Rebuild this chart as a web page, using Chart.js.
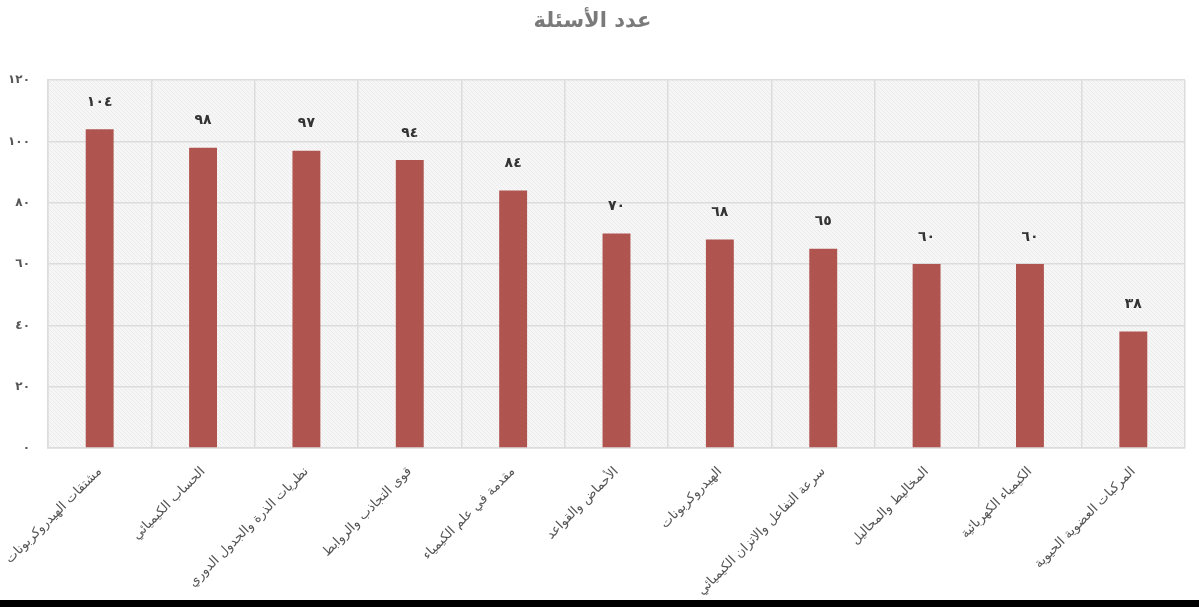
<!DOCTYPE html>
<html lang="ar">
<head>
<meta charset="utf-8">
<script src="https://cdn.jsdelivr.net/npm/chart.js@4/dist/chart.umd.min.js"></script>
<style>
  html, body { margin: 0; padding: 0; background: #fff; }
  #wrap { width: 1199px; height: 600px; position: relative; }
  #bottomBar { width: 1199px; height: 7px; background: #000; }
</style>
</head>
<body>
<div id="wrap"><canvas id="questionsChart"></canvas></div>
<div id="bottomBar"></div>
<script>
// chart data
const topics = [
  'مشتقات الهيدروكربونات',
  'الحساب الكيميائي',
  'نظريات الذرة والجدول الدوري',
  'قوى التجاذب والروابط',
  'مقدمة في علم الكيمياء',
  'الأحماض والقواعد',
  'الهيدروكربونات',
  'سرعة التفاعل والاتزان الكيميائي',
  'المخاليط والمحاليل',
  'الكيمياء الكهربائية',
  'المركبات العضوية الحيوية'
];
const questionCounts = [104, 98, 97, 94, 84, 70, 68, 65, 60, 60, 38];
const yTicks = [0, 20, 40, 60, 80, 100, 120];
const chartTitle = 'عدد الأسئلة';

const arabicDigits = '٠١٢٣٤٥٦٧٨٩';
function toArabic(n) {
  return String(n).replace(/[0-9]/g, d => arabicDigits[d]);
}

// hatched plot background
function makeHatch() {
  const c = document.createElement('canvas');
  c.width = 4; c.height = 4;
  const g = c.getContext('2d');
  g.fillStyle = '#f6f6f6';
  g.fillRect(0, 0, 4, 4);
  g.fillStyle = '#ebebeb';
  for (let i = 0; i < 4; i++) g.fillRect(i, i, 1, 1);
  return c;
}

const hatchBackground = {
  id: 'hatchBackground',
  beforeDraw(chart) {
    const { ctx, chartArea } = chart;
    ctx.save();
    ctx.fillStyle = ctx.createPattern(makeHatch(), 'repeat');
    ctx.fillRect(chartArea.left, chartArea.top, chartArea.right - chartArea.left, chartArea.bottom - chartArea.top);
    ctx.restore();
  }
};

const valueLabels = {
  id: 'valueLabels',
  afterDatasetsDraw(chart) {
    const { ctx } = chart;
    const meta = chart.getDatasetMeta(0);
    ctx.save();
    ctx.font = 'bold 14px "DejaVu Sans"';
    ctx.fillStyle = '#333';
    ctx.textAlign = 'center';
    ctx.textBaseline = 'middle';
    meta.data.forEach((bar, i) => {
      ctx.fillText(toArabic(questionCounts[i]), bar.x, bar.y - 27);
    });
    ctx.restore();
  }
};

const ctx = document.getElementById('questionsChart').getContext('2d');
new Chart(ctx, {
  type: 'bar',
  data: {
    labels: topics,
    datasets: [{
      label: chartTitle,
      data: questionCounts,
      backgroundColor: '#b0544f',
      barPercentage: 0.9,
      categoryPercentage: 0.3
    }]
  },
  options: {
    responsive: true,
    maintainAspectRatio: false,
    animation: false,
    layout: { padding: { left: 0, right: 14, top: 0, bottom: 0 } },
    plugins: {
      legend: { display: false },
      tooltip: { enabled: false },
      title: {
        display: true,
        text: chartTitle,
        color: '#7a7a7a',
        font: { family: 'DejaVu Sans', size: 21, weight: 'bold' },
        padding: { top: 9, bottom: 46 }
      }
    },
    scales: {
      x: {
        grid: { color: '#dcdcdc', lineWidth: 1.5, offset: true, drawTicks: false },
        border: { color: '#dcdcdc', width: 1.5 },
        ticks: {
          color: '#555',
          font: { family: 'DejaVu Sans', size: 13 },
          minRotation: 45,
          maxRotation: 45,
          padding: 16
        },
        afterFit: s => { s.height = 152; s.paddingLeft = 0; s.paddingRight = 0; }
      },
      y: {
        min: 0,
        max: 120,
        afterBuildTicks: s => { s.ticks = yTicks.map(v => ({ value: v })); },
        grid: { color: '#dcdcdc', lineWidth: 1.5, drawTicks: false },
        border: { color: '#dcdcdc', width: 1.5 },
        ticks: {
          color: '#555',
          font: { family: 'DejaVu Sans', size: 12, weight: 'bold' },
          padding: 18,
          callback: v => toArabic(v)
        },
        afterFit: s => { s.width = 48; s.paddingTop = 0; s.paddingBottom = 0; }
      }
    }
  },
  plugins: [hatchBackground, valueLabels]
});
</script>
</body>
</html>
